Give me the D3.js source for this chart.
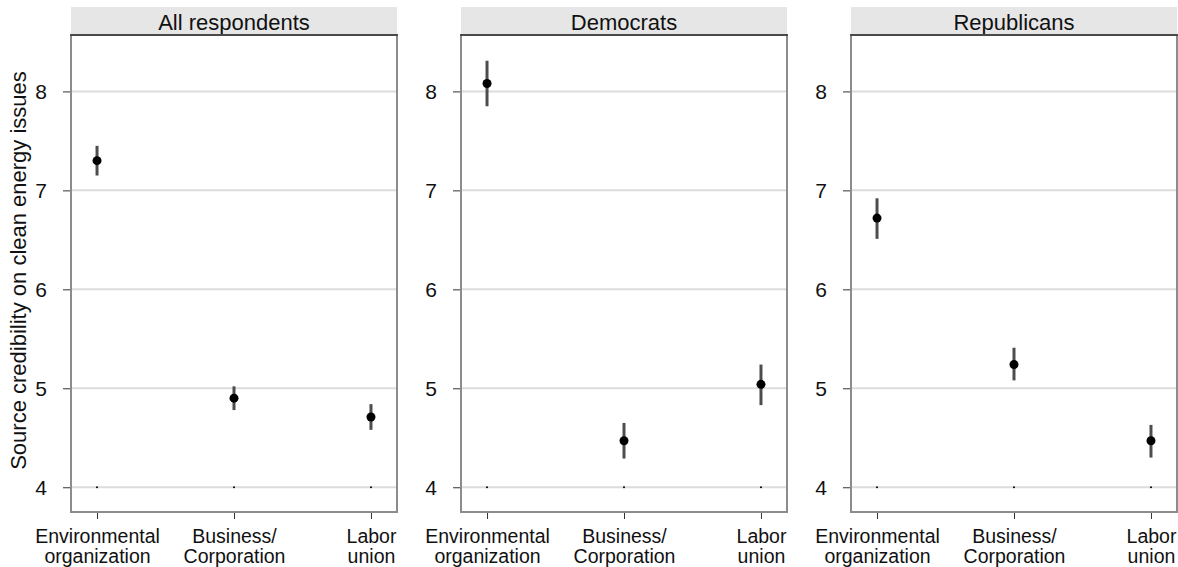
<!DOCTYPE html>
<html>
<head>
<meta charset="utf-8">
<script src="https://cdn.jsdelivr.net/npm/d3@7"></script>
<style>
  body { margin: 0; background: #fff; }
  text { font-family: Arial, "Liberation Sans", sans-serif; fill: #111; }
</style>
</head>
<body>
<div id="chart"></div>
<script>
// données
const panels = ["All respondents", "Democrats", "Republicans"];
const sources = ["Environmental organization", "Business/ Corporation", "Labor union"];
const sourceLines = [["Environmental", "organization"], ["Business/", "Corporation"], ["Labor", "union"]];
const yTicks = [4, 5, 6, 7, 8];

const meanAll = [7.30, 4.90, 4.71];
const lowAll = [7.15, 4.78, 4.58];
const highAll = [7.45, 5.02, 4.84];

const meanDem = [8.08, 4.47, 5.04];
const lowDem = [7.85, 4.29, 4.83];
const highDem = [8.31, 4.65, 5.24];

const meanRep = [6.72, 5.24, 4.47];
const lowRep = [6.51, 5.08, 4.30];
const highRep = [6.92, 5.41, 4.63];

const baseline = [4, 4, 4]; // petits points à 4

const means = [meanAll, meanDem, meanRep];
const lows = [lowAll, lowDem, lowRep];
const highs = [highAll, highDem, highRep];

const W = 1178, H = 567;
const margin = { top: 7, left: 71 };
const panelW = 326, gap = 64, stripH = 28, plotH = 477;
const fs = "22px";
const fsX = "19.5px";

const svg = d3.select("#chart").append("svg")
    .attr("width", W).attr("height", H);

const y = d3.scaleLinear().domain([3.75, 8.57]).range([plotH, 0]);
const x = d3.scalePoint().domain(sources).range([0, panelW]).padding(0.19);

// titre de l'axe y
svg.append("text")
    .attr("transform", `translate(26, ${margin.top + stripH + plotH / 2 - 3}) rotate(-90)`)
    .attr("text-anchor", "middle")
    .style("font-size", fs)
    .text("Source credibility on clean energy issues");

panels.forEach((name, p) => {
    const gx = margin.left + p * (panelW + gap);
    const g = svg.append("g").attr("transform", `translate(${gx},${margin.top})`);

    // bandeau
    g.append("rect").attr("width", panelW).attr("height", stripH).attr("fill", "#e6e6e6");
    g.append("text").attr("x", panelW / 2).attr("y", 23)
        .attr("text-anchor", "middle").style("font-size", fs).text(name);

    const plot = g.append("g").attr("transform", `translate(0,${stripH})`);

    // grille
    plot.selectAll("line.grid").data(yTicks).join("line")
        .attr("class", "grid")
        .attr("x1", 0).attr("x2", panelW)
        .attr("y1", d => y(d)).attr("y2", d => y(d))
        .attr("stroke", "#dcdcdc").attr("stroke-width", 2);

    // axes
    const yAxis = plot.append("g").call(d3.axisLeft(y).tickValues(yTicks).tickSize(8).tickPadding(16).tickFormat(d3.format("d")));
    yAxis.select(".domain").remove();
    yAxis.selectAll("line").attr("stroke", "#333");
    yAxis.selectAll("text").style("font-size", "21px").attr("dy", "0.35em");

    const xAxis = plot.append("g").attr("transform", `translate(0,${plotH})`)
        .call(d3.axisBottom(x).tickSize(7).tickFormat(""));
    xAxis.select(".domain").remove();
    xAxis.selectAll("line").attr("stroke", "#333");
    xAxis.selectAll(".tick").each(function (d, i) {
        const t = d3.select(this).append("text")
            .attr("text-anchor", "middle").style("font-size", fsX)
            .attr("fill", "#111");
        sourceLines[i].forEach((s, k) => {
            t.append("tspan").attr("x", 0).attr("y", 31 + k * 20).text(s);
        });
    });

    // cadre
    plot.append("rect").attr("width", panelW).attr("height", plotH)
        .attr("fill", "none").attr("stroke", "#8c8c8c").attr("stroke-width", 2);
    plot.append("line").attr("x1", -1).attr("x2", panelW + 1).attr("y1", 0).attr("y2", 0)
        .attr("stroke", "#333").attr("stroke-width", 1.5);

    // petits points
    plot.selectAll("circle.base").data(baseline).join("circle")
        .attr("class", "base")
        .attr("cx", (d, i) => x(sources[i])).attr("cy", d => y(d))
        .attr("r", 1).attr("fill", "#000");

    // intervalles
    plot.selectAll("line.ci").data(sources).join("line")
        .attr("class", "ci")
        .attr("x1", d => x(d)).attr("x2", d => x(d))
        .attr("y1", (d, i) => y(lows[p][i])).attr("y2", (d, i) => y(highs[p][i]))
        .attr("stroke", "#4d4d4d").attr("stroke-width", 3);

    // moyennes
    plot.selectAll("circle.mean").data(means[p]).join("circle")
        .attr("class", "mean")
        .attr("cx", (d, i) => x(sources[i])).attr("cy", d => y(d))
        .attr("r", 4.5).attr("fill", "#000");
});
</script>
</body>
</html>
